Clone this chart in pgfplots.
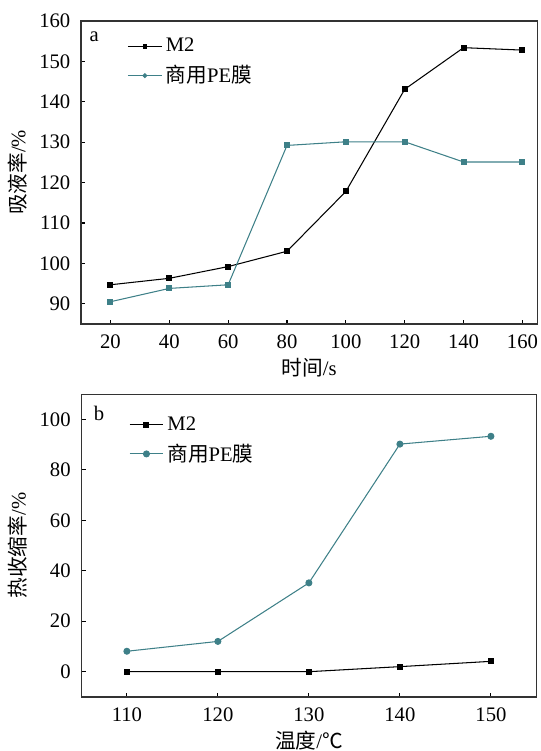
\documentclass[border=0pt]{standalone}
\usepackage{pgfplots}
\pgfplotsset{compat=1.18}
\usepackage{fontspec}
\setmainfont{Liberation Serif}
\newfontfamily\cjk{Noto Sans CJK SC}
\definecolor{tealc}{RGB}{62,128,136}
\begin{document}
\fontsize{11.8}{14}\selectfont
\begin{tikzpicture}
\path[use as bounding box] (0pt,0pt) rectangle (308.6pt,429.1pt);
\pgfplotsset{
  every axis/.append style={
    scale only axis,
    tick align=inside,
    xtick pos=bottom,
    ytick pos=left,
    major tick length=2.5pt,
    tick style={black, line width=0.6pt},
    axis line style={line width=0.7pt, black!80},
    /pgf/number format/assume math mode=true,
    tick label style={font=\fontsize{11.8}{14}\selectfont},
    yticklabel style={xshift=-2pt},
    xticklabel style={yshift=-2pt},
    label style={font=\fontsize{11.8}{14}\selectfont},
    xlabel style={yshift=2.5pt},
    ylabel style={yshift=-1pt},
    legend style={draw=none, fill=none, font=\fontsize{11.8}{14}\selectfont, row sep=2pt, anchor=north west, inner sep=1pt},
    legend cell align=left,
    legend image code/.code={\draw[mark repeat=2,mark phase=2,#1] plot coordinates {(0cm,0cm)(0.34cm,0cm)(0.68cm,0cm)};},
  }
}
\begin{axis}[
  at={(46.3pt,244.0pt)}, anchor=south west,
  width=260.6pt, height=173.1pt,
  xmin=10, xmax=165, ymin=85, ymax=160,
  xtick={20,40,...,160}, ytick={90,100,...,160},
  xlabel={{\cjk 时间}/s},
  ylabel={{\cjk 吸液率}/\%},
  legend style={at={(0.097,0.962)}},
]
\addplot[black, line width=0.6pt, mark=square*, mark size=1.4pt, forget plot] coordinates {
(20,94.7) (40,96.3) (60,99.2) (80,103.0) (100,117.8) (120,143.1) (140,153.4) (160,152.8)};
\addplot[tealc, line width=0.6pt, mark=square*, mark size=1.4pt, forget plot] coordinates {
(20,90.5) (40,93.8) (60,94.7) (80,129.2) (100,130.1) (120,130.1) (140,125.1) (160,125.1)};
\addlegendimage{black, line width=0.6pt, mark=square*, mark size=1.0pt}
\addlegendentry{M2}
\addlegendimage{tealc, line width=0.6pt, mark=*, mark size=1.1pt}
\addlegendentry{{\cjk 商用}PE{\cjk 膜}}
\node at (axis description cs:0.029,0.948) {a};
\end{axis}
\begin{axis}[
  at={(46.5pt,30.9pt)}, anchor=south west,
  width=260pt, height=173pt,
  xmin=105, xmax=155, ymin=-10, ymax=110,
  xtick={110,120,...,150}, ytick={0,20,...,100},
  xlabel={{\cjk 温度}/{\cjk ℃}},
  ylabel={{\cjk 热收缩率}/\%},
  legend style={at={(0.1,0.945)}},
]
\addplot[black, line width=0.6pt, mark=square*, mark size=1.4pt] coordinates {
(110,0) (120,0) (130,0) (140,2.0) (150,4.1)};
\addlegendentry{M2}
\addplot[tealc, line width=0.6pt, mark=*, mark size=1.7pt] coordinates {
(110,8.1) (120,12.0) (130,35.2) (140,90.2) (150,93.3)};
\addlegendentry{{\cjk 商用}PE{\cjk 膜}}
\node at (axis description cs:0.039,0.935) {b};
\end{axis}
\end{tikzpicture}
\end{document}
